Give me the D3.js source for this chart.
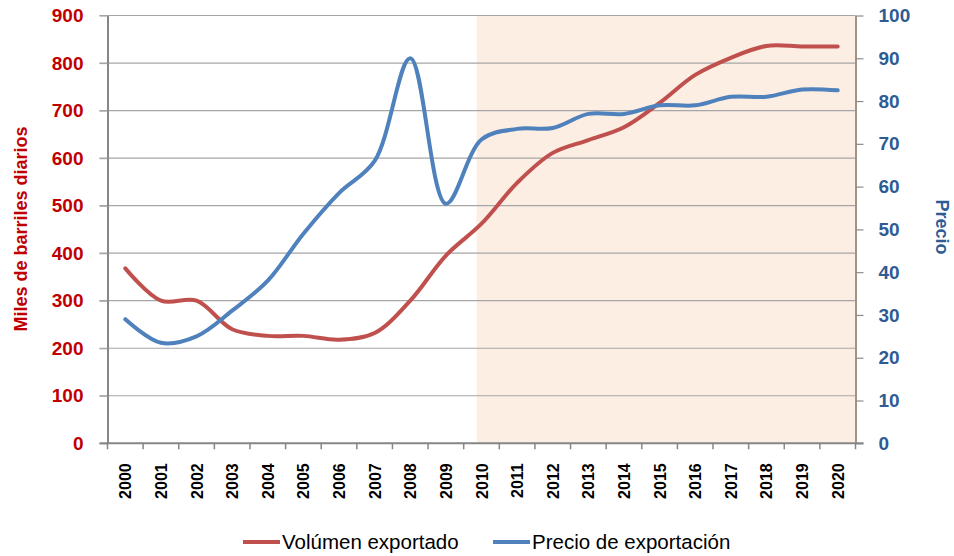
<!DOCTYPE html>
<html>
<head>
<meta charset="utf-8">
<script src="https://cdn.jsdelivr.net/npm/d3@7"></script>
<style>
  body { margin: 0; background: #fff; }
  text { font-family: "Liberation Sans", Arial, sans-serif; }
</style>
</head>
<body>
<div id="chart"></div>
<script>
// Data
const years = ['2000', '2001', '2002', '2003', '2004', '2005', '2006', '2007', '2008', '2009', '2010',
  '2011', '2012', '2013', '2014', '2015', '2016', '2017', '2018', '2019', '2020'];
const volumen = [368, 300, 300, 240, 226, 226, 218, 232, 300, 395, 462,
  548, 611, 638, 665, 716, 775, 811, 836, 835, 835];
const precio = [29, 23.5, 25, 31, 38, 49, 58.5, 66, 90, 56, 71,
  73.5, 73.7, 77, 77, 79, 79, 81, 81, 82.7, 82.5];
const leftTicks = [0, 100, 200, 300, 400, 500, 600, 700, 800, 900];
const rightTicks = [0, 10, 20, 30, 40, 50, 60, 70, 80, 90, 100];
const shadeFrom = '2010';

function draw() {
  // Dimensions
  const dimensions = { width: 954, height: 556, left: 107.5, right: 855.5, top: 15.5, bottom: 443.3 };
  const red = '#c0504d';
  const blue = '#4f81bd';
  const redText = '#c00000';
  const blueText = '#2f5b94';

  const svg = d3.select('#chart')
    .append('svg')
    .attr('width', dimensions.width)
    .attr('height', dimensions.height);

  // Scales
  const xScale = d3.scaleBand()
    .domain(years)
    .range([dimensions.left, dimensions.right]);
  const yLeft = d3.scaleLinear()
    .domain([0, 900])
    .range([dimensions.bottom, dimensions.top]);
  const yRight = d3.scaleLinear()
    .domain([0, 100])
    .range([dimensions.bottom, dimensions.top]);
  const cx = d => xScale(d) + xScale.bandwidth() / 2;

  // shaded projection area
  svg.append('rect')
    .attr('x', xScale(shadeFrom) + xScale.bandwidth() * 0.36)
    .attr('y', dimensions.top)
    .attr('width', dimensions.right - xScale(shadeFrom) - xScale.bandwidth() * 0.36)
    .attr('height', dimensions.bottom - dimensions.top)
    .attr('fill', '#fdeee4');

  // grid
  svg.append('g')
    .selectAll('line')
    .data(leftTicks.filter(d => d > 0))
    .join('line')
    .attr('x1', dimensions.left - 8)
    .attr('x2', dimensions.right)
    .attr('y1', d => yLeft(d))
    .attr('y2', d => yLeft(d))
    .attr('stroke', '#a6a6a6')
    .attr('stroke-width', 1.2);

  // left axis
  const leftAxis = d3.axisLeft(yLeft)
    .tickValues(leftTicks)
    .tickSize(8)
    .tickSizeOuter(0)
    .tickPadding(16);
  const leftG = svg.append('g')
    .attr('transform', `translate(${dimensions.left},0)`)
    .call(leftAxis);
  leftG.select('.domain').attr('stroke', '#868686').attr('stroke-width', 2);
  leftG.selectAll('.tick line').attr('stroke', '#a6a6a6').attr('stroke-width', 1.2);
  leftG.selectAll('.tick text')
    .attr('fill', redText)
    .style('font-size', '19px')
    .style('font-weight', 'bold')
    .style('font-family', '"Liberation Sans", Arial, sans-serif');

  // right axis
  const rightAxis = d3.axisRight(yRight)
    .tickValues(rightTicks)
    .tickSize(8)
    .tickSizeOuter(0)
    .tickPadding(15);
  const rightG = svg.append('g')
    .attr('transform', `translate(${dimensions.right},0)`)
    .call(rightAxis);
  rightG.select('.domain').attr('stroke', '#a09488').attr('stroke-width', 2);
  rightG.selectAll('.tick line').attr('stroke', '#8c8c8c').attr('stroke-width', 1.2);
  rightG.selectAll('.tick text')
    .attr('fill', blueText)
    .style('font-size', '19px')
    .style('font-weight', 'bold')
    .style('font-family', '"Liberation Sans", Arial, sans-serif');

  // bottom axis
  const xAxis = d3.axisBottom(xScale)
    .tickSize(0)
    .tickPadding(0)
    .tickFormat('');
  const xG = svg.append('g')
    .attr('transform', `translate(0,${dimensions.bottom})`)
    .call(xAxis);
  xG.select('.domain').remove();
  xG.append('line')
    .attr('x1', dimensions.left - 8)
    .attr('x2', dimensions.right + 8)
    .attr('stroke', '#868686')
    .attr('stroke-width', 2);
  xG.selectAll('.boundary')
    .data(years.concat(['end']))
    .join('line')
    .attr('class', 'boundary')
    .attr('x1', (d, i) => i < years.length ? xScale(d) : dimensions.right)
    .attr('x2', (d, i) => i < years.length ? xScale(d) : dimensions.right)
    .attr('y1', 0)
    .attr('y2', 6)
    .attr('stroke', '#868686')
    .attr('stroke-width', 1.5);
  xG.selectAll('.year')
    .data(years)
    .join('text')
    .attr('class', 'year')
    .attr('transform', d => `translate(${cx(d) + 6},20) rotate(-90)`)
    .attr('text-anchor', 'end')
    .attr('fill', '#000')
    .style('font-size', '16px')
    .style('font-weight', 'bold')
    .text(d => d);

  // lines
  const volLine = d3.line()
    .x((d, i) => cx(years[i]))
    .y(d => yLeft(d))
    .curve(d3.curveCatmullRom.alpha(0.5));
  const priceLine = d3.line()
    .x((d, i) => cx(years[i]))
    .y(d => yRight(d))
    .curve(d3.curveCatmullRom.alpha(0.5));

  svg.append('path')
    .datum(volumen)
    .attr('d', volLine)
    .attr('fill', 'none')
    .attr('stroke', red)
    .attr('stroke-width', 4)
    .attr('stroke-linecap', 'round');
  svg.append('path')
    .datum(precio)
    .attr('d', priceLine)
    .attr('fill', 'none')
    .attr('stroke', blue)
    .attr('stroke-width', 4)
    .attr('stroke-linecap', 'round');

  // axis titles
  svg.append('text')
    .attr('transform', 'translate(27,229) rotate(-90)')
    .attr('text-anchor', 'middle')
    .attr('fill', redText)
    .style('font-size', '18px')
    .style('font-weight', 'bold')
    .text('Miles de barriles diarios');
  svg.append('text')
    .attr('transform', 'translate(936,227) rotate(90)')
    .attr('text-anchor', 'middle')
    .attr('fill', blueText)
    .style('font-size', '18px')
    .style('font-weight', 'bold')
    .text('Precio');

  // legend
  const legendItems = [
    { name: 'Volúmen exportado', color: red, x: 243 },
    { name: 'Precio de exportación', color: blue, x: 493 },
  ];
  const legend = svg.append('g');
  legend.selectAll('line')
    .data(legendItems)
    .join('line')
    .attr('x1', d => d.x)
    .attr('x2', d => d.x + 37)
    .attr('y1', 542)
    .attr('y2', 542)
    .attr('stroke', d => d.color)
    .attr('stroke-width', 4);
  legend.selectAll('text')
    .data(legendItems)
    .join('text')
    .attr('x', d => d.x + 39)
    .attr('y', 549)
    .attr('fill', '#000')
    .style('font-size', '20.5px')
    .text(d => d.name);
}

draw();
</script>
</body>
</html>
